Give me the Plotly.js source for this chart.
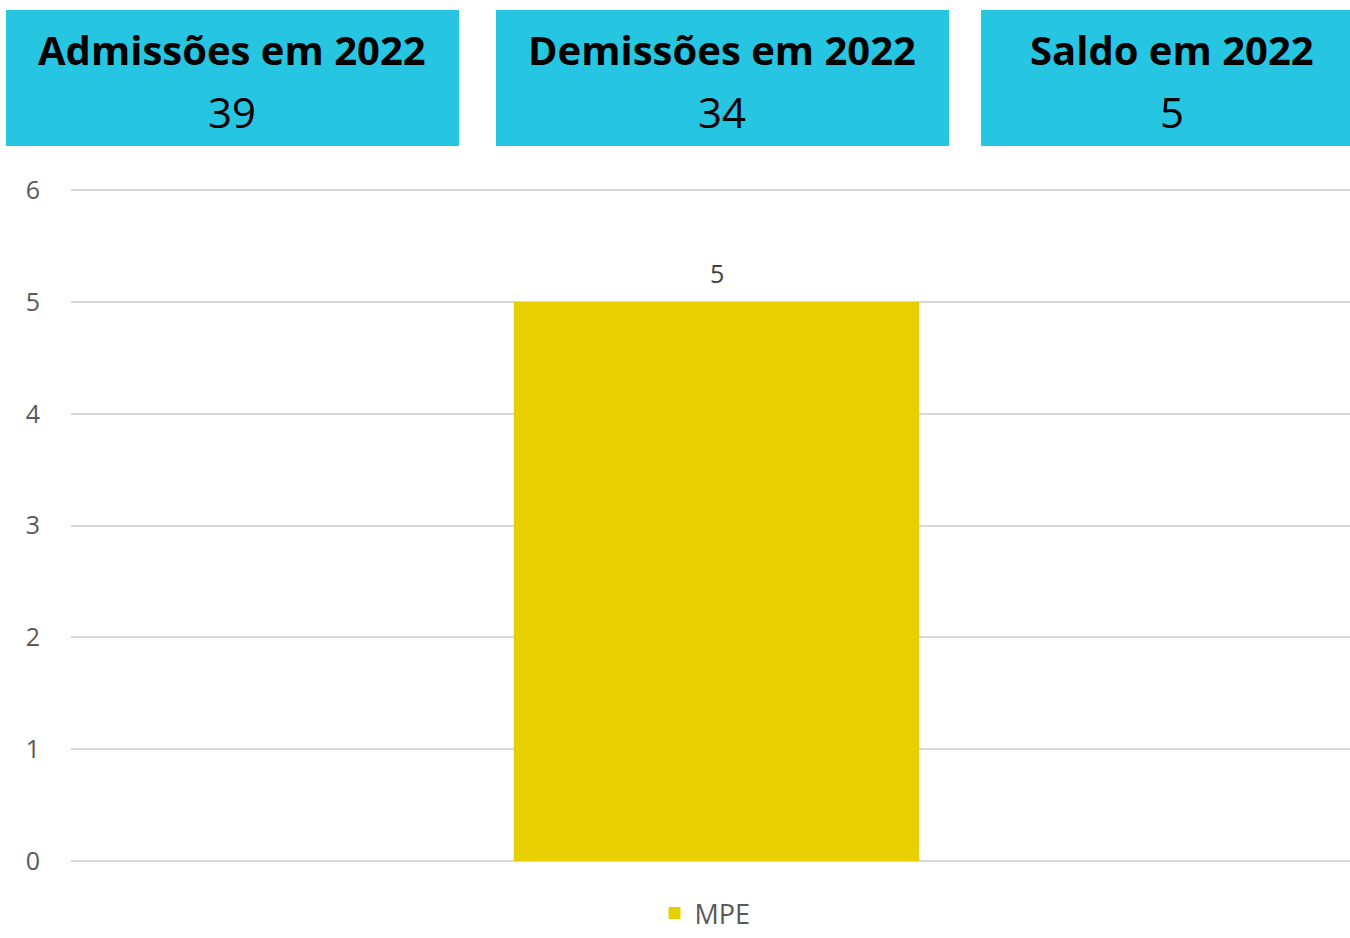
<!DOCTYPE html>
<html>
<head>
<meta charset="utf-8">
<script src="https://cdn.plot.ly/plotly-3.0.1.min.js"></script>
<style>
html,body{margin:0;padding:0;background:#fff;}
#chart{width:1350px;height:938px;}
</style>
</head>
<body>
<div id="chart"></div>
<script>
const categories = ["MPE"];
const values = [5];
const seriesName = "MPE";
const cardTitles = ["Admissões em 2022", "Demissões em 2022", "Saldo em 2022"];
const cardValues = [39, 34, 5];
const yTicks = [0, 1, 2, 3, 4, 5, 6];

const W = 1350, H = 938;
const mL = 71, mR = 0, mT = 188, mB = 77;
const pw = W - mL - mR, ph = H - mT - mB;
const px = x => (x - mL) / pw;
const py = y => (H - mB - y) / ph;

const cards = [[6, 459], [496, 949], [981, 1350]];
const cardTextX = [232, 722, 1172];
const shapes = cards.map(c => ({
  type: 'rect', xref: 'paper', yref: 'paper',
  x0: px(c[0]), x1: px(c[1]), y0: py(146), y1: py(10),
  fillcolor: '#26C6E3', line: {width: 0}, layer: 'above'
}));
const FONT = '"Open Sans", "Noto Sans", sans-serif';
const annotations = [];
cards.forEach((c, i) => {
  const cx = px(cardTextX[i]);
  annotations.push({
    xref: 'paper', yref: 'paper', x: cx, y: py(49), xanchor: 'center', yanchor: 'middle',
    text: '<b>' + cardTitles[i] + '</b>', showarrow: false,
    font: {family: FONT, size: 40, color: '#000'}
  });
  annotations.push({
    xref: 'paper', yref: 'paper', x: cx, y: py(112), xanchor: 'center', yanchor: 'middle',
    text: String(cardValues[i]), showarrow: false,
    font: {family: FONT, size: 42, color: '#000'}
  });
});
// data label above the bar
categories.forEach((c, i) => {
  annotations.push({
    xref: 'x', yref: 'y', x: c, y: values[i], xanchor: 'center', yanchor: 'bottom',
    yshift: 10, text: String(values[i]), showarrow: false,
    font: {family: FONT, size: 25, color: '#404040'}
  });
});

const trace = {
  type: 'bar', x: categories, y: values, name: seriesName,
  marker: {color: '#E8D000'},
  showlegend: true, hoverinfo: 'none'
};

const layout = {
  width: W, height: H,
  margin: {l: mL, r: mR, t: mT, b: mB, autoexpand: false},
  paper_bgcolor: '#fff', plot_bgcolor: '#fff',
  font: {family: FONT, color: '#595959'},
  bargap: 0.683,
  xaxis: {range: [-0.5047, 0.4953], showticklabels: false, showgrid: false, zeroline: false, showline: false, ticks: ''},
  yaxis: {
    range: [0, 6.02], tickvals: yTicks, ticktext: yTicks.map(String),
    showgrid: true, gridcolor: '#D9D9D9', gridwidth: 2,
    zeroline: true, zerolinecolor: '#D9D9D9', zerolinewidth: 2,
    showline: false, ticks: '', ticklen: 0,
    tickfont: {family: FONT, size: 25, color: '#595959'},
    ticklabelstandoff: 30
  },
  showlegend: true,
  legend: {
    orientation: 'h', x: px(705), xanchor: 'center', y: py(938), yanchor: 'bottom',
    font: {family: FONT, size: 27, color: '#595959'}
  },
  shapes: shapes,
  annotations: annotations
};

Plotly.newPlot('chart', [trace], layout, {displayModeBar: false, staticPlot: true});
</script>
</body>
</html>
